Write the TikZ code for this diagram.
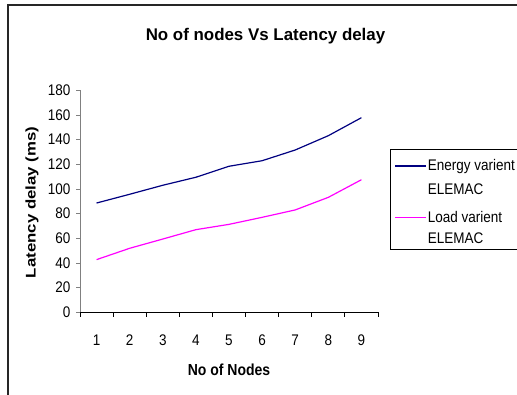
\documentclass[tikz,border=0pt]{standalone}
\usepackage{fontspec}
\setmainfont{Liberation Sans}
\definecolor{navyline}{RGB}{0,0,128}
\definecolor{pinkline}{RGB}{255,0,255}
\newcommand{\vstr}[1]{\scalebox{1}[1.14]{#1}}
\begin{document}
\begin{tikzpicture}[x=1pt,y=-1pt,
  lab/.style={font=\fontsize{13.5}{15}\selectfont, inner sep=0pt},
  blab/.style={font=\fontsize{14}{16}\selectfont\bfseries, inner sep=0pt},
  serie/.style={line width=1.2pt},
  tickline/.style={line width=0.8pt}]
\useasboundingbox (0,0) rectangle (517,395);
\clip (0,0) rectangle (517,395);
% frame
\draw[line width=2pt, black!85] (7.5,400) -- (7.5,5) -- (530,5);
% title
\node[font=\fontsize{16.9}{19}\selectfont\bfseries, inner sep=0pt] (title) at (265.5,36) {No of nodes Vs Latency delay};
% axes
\coordinate (origin) at (80,312.3);
\coordinate (ytop) at (80,90);
\coordinate (xend) at (378,312.3);
\draw[line width=1pt, gray] (origin) -- (ytop);
\draw[line width=1pt, black] (origin) -- (xend);
\foreach \v in {0,20,...,180}{
  \draw[tickline, gray] (76,{312.3-1.2333*\v}) -- (80,{312.3-1.2333*\v});
  \node[lab, anchor=east] (yl\v) at (70.5,{312.3-1.2333*\v}) {\vstr{\v}};
}
\foreach \k in {0,...,9}{
  \draw[tickline] ({80+33.11*\k},312.3) -- ({80+33.11*\k},317.3);
}
\foreach \i in {1,...,9}{
  \node[lab] (xl\i) at ({96.55+33.11*(\i-1)},340) {\vstr{\i}};
}
% axis titles
\node[blab] (xtitle) at (229,370) {\vstr{No of Nodes}};
\node[blab, rotate=90] (ytitle) at (32,202.5) {\scalebox{1.2}[1]{Latency delay (ms)}};
% data
\foreach \v [count=\i] in {88.6,95.7,103,109.5,118.4,122.9,131.6,143.2,157.8}{
  \coordinate (b\i) at ({96.55+33.11*(\i-1)},{312.3-1.2333*\v});
}
\foreach \v [count=\i] in {42.7,51.9,59.4,67,71.3,77,83,93.2,107.5}{
  \coordinate (p\i) at ({96.55+33.11*(\i-1)},{312.3-1.2333*\v});
}
\draw[serie, navyline] (b1) -- (b2) -- (b3) -- (b4) -- (b5) -- (b6) -- (b7) -- (b8) -- (b9);
\draw[serie, pinkline] (p1) -- (p2) -- (p3) -- (p4) -- (p5) -- (p6) -- (p7) -- (p8) -- (p9);
% legend
\draw[line width=1pt] (390.7,149.5) rectangle (540,250);
\coordinate (lb1) at (395,166);
\coordinate (lb2) at (425.7,166);
\coordinate (lp1) at (395,217.3);
\coordinate (lp2) at (425.7,217.3);
\draw[serie, navyline] (lb1) -- (lb2);
\draw[serie, pinkline] (lp1) -- (lp2);
\node[lab, anchor=west] (le1) at (427.7,166.5) {\vstr{Energy varient}};
\node[lab, anchor=west] (le2) at (427.7,189.3) {\vstr{ELEMAC}};
\node[lab, anchor=west] (le3) at (427.7,216.7) {\vstr{Load varient}};
\node[lab, anchor=west] (le4) at (427.7,238.5) {\vstr{ELEMAC}};
\end{tikzpicture}
\end{document}
